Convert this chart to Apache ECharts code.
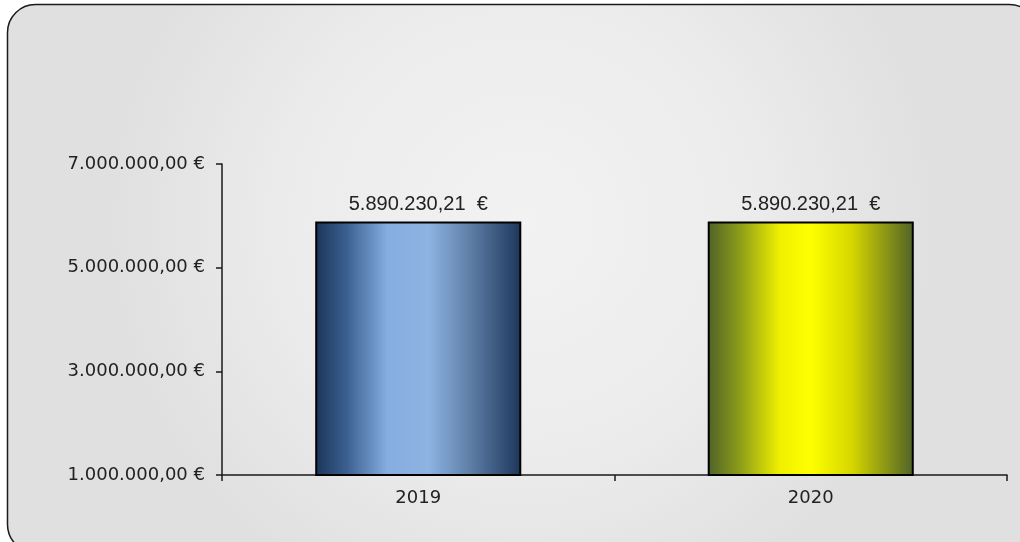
<!DOCTYPE html>
<html>
<head>
<meta charset="utf-8">
<script src="https://cdn.jsdelivr.net/npm/echarts@6/dist/echarts.min.js"></script>
<style>
html,body{margin:0;padding:0;background:#ffffff;}
#chart{width:1020px;height:542px;}
</style>
</head>
<body>
<div id="chart"></div>
<script>
const categories = ['2019', '2020'];
const values = [5890230.21, 5890230.21];
const yMin = 1000000;
const yMax = 7000000;
const yInterval = 2000000;

function fmtEuro(v, sep) {
  const parts = v.toFixed(2).split('.');
  const intPart = parts[0].replace(/\B(?=(\d{3})+(?!\d))/g, '.');
  return intPart + ',' + parts[1] + sep + '€';
}

const barGradients = [
  {type:'linear', x:0, y:0, x2:1, y2:0, colorStops:[
    {offset:0, color:'#1b3558'},
    {offset:0.15, color:'#3a5f8f'},
    {offset:0.35, color:'#86ade0'},
    {offset:0.55, color:'#8db3e2'},
    {offset:0.75, color:'#5f7fa8'},
    {offset:1, color:'#1c3659'}
  ]},
  {type:'linear', x:0, y:0, x2:1, y2:0, colorStops:[
    {offset:0, color:'#4f6228'},
    {offset:0.15, color:'#8a9a1a'},
    {offset:0.35, color:'#f0f000'},
    {offset:0.5, color:'#ffff00'},
    {offset:0.7, color:'#d6d600'},
    {offset:1, color:'#4f6228'}
  ]}
];

const chart = echarts.init(document.getElementById('chart'));
chart.setOption({
  animation: false,
  graphic: [{
    type: 'rect',
    z: -10,
    silent: true,
    shape: {x: 7.5, y: 4.5, width: 1030, height: 548, r: 28},
    style: {
      fill: {type:'radial', x:0.5, y:0.4, r:0.75, colorStops:[
        {offset:0, color:'#f2f2f2'},
        {offset:0.55, color:'#ececec'},
        {offset:1, color:'#e0e0e0'}
      ]},
      stroke: '#1a1a1a',
      lineWidth: 1.5
    }
  }],
  grid: {left: 222, right: 13, top: 164, bottom: 67, containLabel: false},
  xAxis: {
    type: 'category',
    data: categories,
    axisLine: {show: true, lineStyle: {color: '#1a1a1a', width: 1.5}},
    axisTick: {show: true, length: 6, lineStyle: {color: '#1a1a1a', width: 1.5}},
    axisLabel: {fontFamily: 'DejaVu Sans', fontSize: 18, color: '#222', margin: 14}
  },
  yAxis: {
    type: 'value',
    min: yMin,
    max: yMax,
    interval: yInterval,
    splitLine: {show: false},
    axisLine: {show: true, lineStyle: {color: '#1a1a1a', width: 1.5}},
    axisTick: {show: true, length: 6, lineStyle: {color: '#1a1a1a', width: 1.5}},
    axisLabel: {fontFamily: 'DejaVu Sans', fontSize: 18, color: '#222', margin: 17,
      formatter: v => fmtEuro(v, ' ')}
  },
  series: [{
    type: 'bar',
    barWidth: '52.5%',
    data: values.map((v, i) => ({value: v, itemStyle: {color: barGradients[i]}})),
    itemStyle: {borderColor: '#000', borderWidth: 2},
    label: {
      show: true, position: 'top', distance: 7,
      fontFamily: 'Liberation Sans', fontSize: 20, color: '#222',
      formatter: p => fmtEuro(p.value, '  ')
    }
  }]
});
</script>
</body>
</html>
